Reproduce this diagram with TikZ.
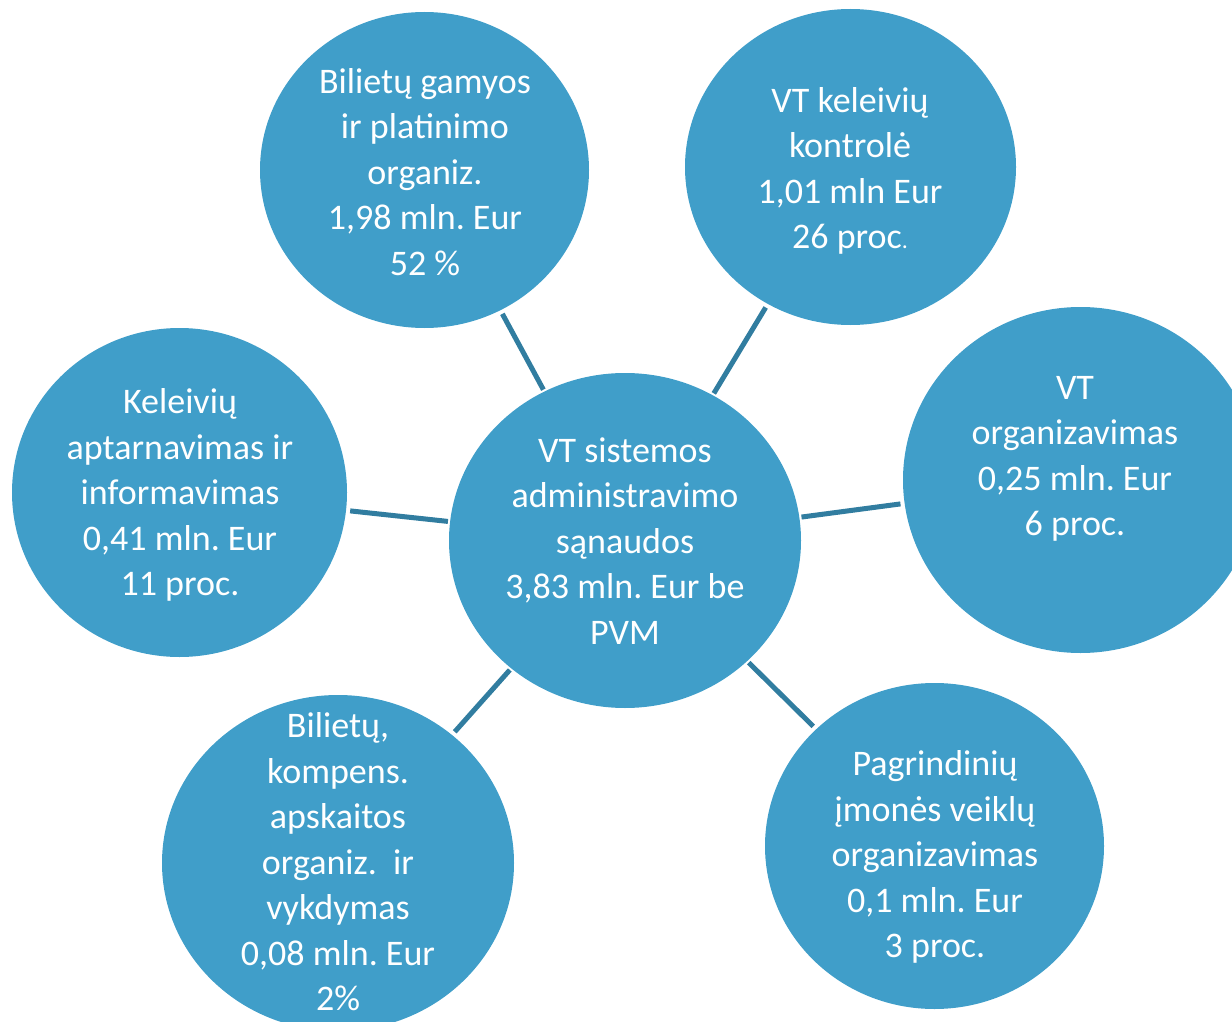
\documentclass[tikz,border=0pt]{standalone}
\usepackage{fontspec}
\setmainfont{Carlito}
\usetikzlibrary{shapes.geometric}
\definecolor{bubblefill}{RGB}{64,158,201}
\definecolor{linkcol}{RGB}{49,125,160}
\frenchspacing
\begin{document}
\begin{tikzpicture}[x=1pt,y=-1pt,
  bubble/.style={ellipse, fill=bubblefill, draw=none, inner sep=0pt},
  btext/.style={text=white, align=center, inner sep=0pt,
    font=\fontsize{36}{45.5}\selectfont},
  linkline/.style={draw=linkcol, line width=5pt, shorten <=2pt, shorten >=4pt}]
\useasboundingbox (0,0) rectangle (1232,1022);
% bubbles
\node[bubble, minimum width=352pt, minimum height=335pt] (c)  at (625,540.5) {};
\node[bubble, minimum width=329pt, minimum height=316pt] (tl) at (424.5,170) {};
\node[bubble, minimum width=331pt, minimum height=316pt] (tr) at (850.5,167) {};
\node[bubble, minimum width=335pt, minimum height=329pt] (l)  at (179.5,492.5) {};
\node[bubble, minimum width=355pt, minimum height=346pt] (r)  at (1080.5,480) {};
\node[bubble, minimum width=352pt, minimum height=336pt] (bl) at (338,863) {};
\node[bubble, minimum width=339pt, minimum height=326pt] (br) at (934.5,846) {};
% connectors
\draw[linkline] (c) -- (tl);
\draw[linkline] (c) -- (tr);
\draw[linkline] (c) -- (l);
\draw[linkline] (c) -- (r);
\draw[linkline] (c) -- (bl);
\draw[linkline] (c) -- (br);
% texts
\node[btext] (tc)  at (625,541) {VT sistemos\\administravimo\\sąnaudos\\3,83 mln. Eur be\\PVM};
\node[btext] (ttl) at (425,172) {Bilietų gamyos\\ir platinimo\\organiz.\\1,98 mln. Eur\\52 \%};
\node[btext] (ttr) at (850,171) {VT keleivių\\kontrolė\\1,01 mln Eur\\26 proc{\fontsize{24}{24}\selectfont .}};
\node[btext] (tl2) at (180,495) {Keleivių\\aptarnavimas ir\\informavimas\\0,41 mln. Eur\\11 proc.};
\node[btext] (tr2) at (1075,459) {VT\\organizavimas\\0,25 mln. Eur\\6 proc.};
\node[btext] (tbl) at (338,862) {Bilietų,\\kompens.\\apskaitos\\organiz.\ \ ir\\vykdymas\\0,08 mln. Eur\\2\%};
\node[btext] (tbr) at (935,857) {Pagrindinių\\įmonės veiklų\\organizavimas\\0,1 mln. Eur\\3 proc.};
\end{tikzpicture}
\end{document}
